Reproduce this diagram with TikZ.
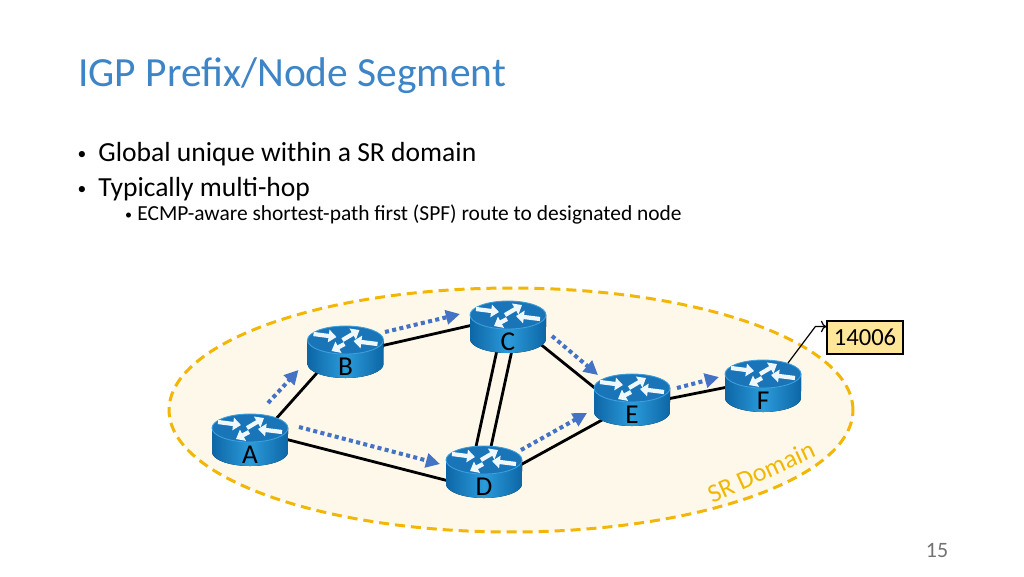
\documentclass[tikz,border=0pt]{standalone}
\usepackage{fontspec}
\setmainfont{Carlito}
\usetikzlibrary{shapes.geometric, positioning, calc, arrows.meta}

\definecolor{titleblue}{HTML}{3D85C6}
\definecolor{srgold}{HTML}{F2B705}
\definecolor{srfill}{HTML}{FEF8EA}
\definecolor{flowblue}{HTML}{4472C4}
\definecolor{rttop}{HTML}{1A74B8}
\definecolor{rtrim}{HTML}{3D9FDB}
\definecolor{rtlight}{HTML}{2B9BDA}
\definecolor{rtdark}{HTML}{0D66A6}
\definecolor{sidfill}{HTML}{FFE699}

\tikzset{
  router/.style={ellipse, minimum width=1.52cm, minimum height=1.04cm, inner sep=0pt},
  rtlabel/.style={font=\fontsize{15.5}{18}\selectfont, inner sep=0pt},
  link/.style={line width=1.6pt, black},
  flow/.style={line width=2.3pt, flowblue, dash pattern=on 2.3pt off 1.9pt, -{Triangle[length=8pt, width=8pt]}},
  rtarrow/.style={line width=2.4pt, white!92!rtlight, -{Triangle[length=4.5pt, width=7pt]}},
  bullettext/.style={anchor=base west, inner sep=0pt, font=\fontsize{15.7}{19}\selectfont},
  bulletdot/.style={anchor=base, inner sep=0pt, font=\fontsize{10}{12}\selectfont},
}

\begin{document}
\begin{tikzpicture}[x=0.02cm, y=-0.02cm]
  \useasboundingbox[fill=white] (0,0) rectangle (1024,576);

  % title and bullets
  \node[anchor=base west, inner sep=0pt, text=titleblue, font=\fontsize{23.6}{28}\selectfont] (title) at (78,86) {IGP Prefix/Node Segment};
  \node[bulletdot] (dot1) at (82,159) {•};
  \node[bullettext] (b1) at (98,161) {Global unique within a SR domain};
  \node[bulletdot] (dot2) at (82,194) {•};
  \node[bullettext] (b2) at (98,196) {Typically multi-hop};
  \node[bulletdot, font=\fontsize{8}{10}\selectfont] (dot3) at (128.5,219) {•};
  \node[bullettext, font=\fontsize{12.2}{15}\selectfont] (b3) at (137,220) {ECMP-aware shortest-path first (SPF) route to designated node};

  % SR domain
  \draw[srgold, fill=srfill, line width=1.7pt, dash pattern=on 5.7pt off 3.4pt] (511,410) ellipse[x radius=6.84cm, y radius=2.44cm];
  \node[rotate=24.6, text=srgold, inner sep=0pt, font=\fontsize{14.8}{18}\selectfont] (srname) at (761,472) {SR Domain};

  % routers
  \node[router] (A) at (250,440) {};
  \node[router] (B) at (345.5,352) {};
  \node[router] (C) at (508,327) {};
  \node[router] (D) at (484,472) {};
  \node[router] (E) at (632,400) {};
  \node[router] (F) at (763,386) {};
  \node[draw, fill=sidfill, line width=0.7pt, minimum width=1.52cm, minimum height=0.66cm, inner sep=0pt, font=\fontsize{14}{16}\selectfont] (sid) at (865,337.5) {14006};

  % links
  \draw[link] ($(A)+(0,8)$) -- ($(B)+(0,-11)$);
  \draw[link] ($(A)+(0,-10)$) -- ($(D)+(0,18)$);
  \draw[link] ($(B)+(0,2)$) -- ($(C)+(0,-10)$);
  \draw[link] ($(C)+(-6,0)$) -- ($(D)+(-13.5,0)$);
  \draw[link] ($(C)+(9,0)$) -- ($(D)+(1.5,0)$);
  \draw[link] ($(C)+(0,-9)$) -- ($(E)+(0,18)$);
  \draw[link] ($(D)+(0,13)$) -- ($(E)+(0,3.5)$);
  \draw[link] ($(E)+(0,6)$) -- ($(F)+(0,-6)$);

  \foreach \n in {A,B,C,D,E,F}{
    \fill[left color=rtdark, right color=rtdark, middle color=rtlight]
      ($(\n)+(-38,-12)$) -- ($(\n)+(-38,12)$) arc[start angle=180, end angle=360, x radius=0.76cm, y radius=0.28cm] -- ($(\n)+(38,-12)$) -- cycle;
    \fill[rttop, draw=rtrim, line width=0.5pt] ($(\n)+(0,-12)$) ellipse[x radius=0.76cm, y radius=0.28cm];
    \draw[rtarrow] ($(\n)+(-32,-18)$) -- ($(\n)+(-9,-15)$);
    \draw[rtarrow] ($(\n)+(-3,-12)$) -- ($(\n)+(14,-22)$);
    \draw[rtarrow] ($(\n)+(32,-8)$) -- ($(\n)+(8,-11)$);
    \draw[rtarrow] ($(\n)+(-1,-8)$) -- ($(\n)+(-14,-1)$);
    \node[rtlabel] at ($(\n)+(0,15)$) {\n};
  }

  % prefix-SID flows
  \draw[flow] ($(A)+(18,-37)$) -- ($(B)+(-47,18)$);
  \draw[flow] ($(A)+(49,-13)$) -- ($(D)+(-44,-8)$);
  \draw[flow] ($(B)+(39.5,-20)$) -- ($(C)+(-48,-13)$);
  \draw[flow] ($(C)+(44,9)$) -- ($(E)+(-34,-25)$);
  \draw[flow] ($(D)+(37,-22)$) -- ($(E)+(-45,13)$);
  \draw[flow] ($(E)+(45,-12)$) -- ($(F)+(-44,-9)$);

  \draw[->, line width=0.7pt] ($(F)+(25,-23)$) -- ($(sid.west)+(-11,-11)$) -- ($(sid.west)+(0,-11)$);

  \node[text=black!55, inner sep=0pt, font=\fontsize{12.5}{14}\selectfont] (page) at (937,550) {15};
\end{tikzpicture}
\end{document}
